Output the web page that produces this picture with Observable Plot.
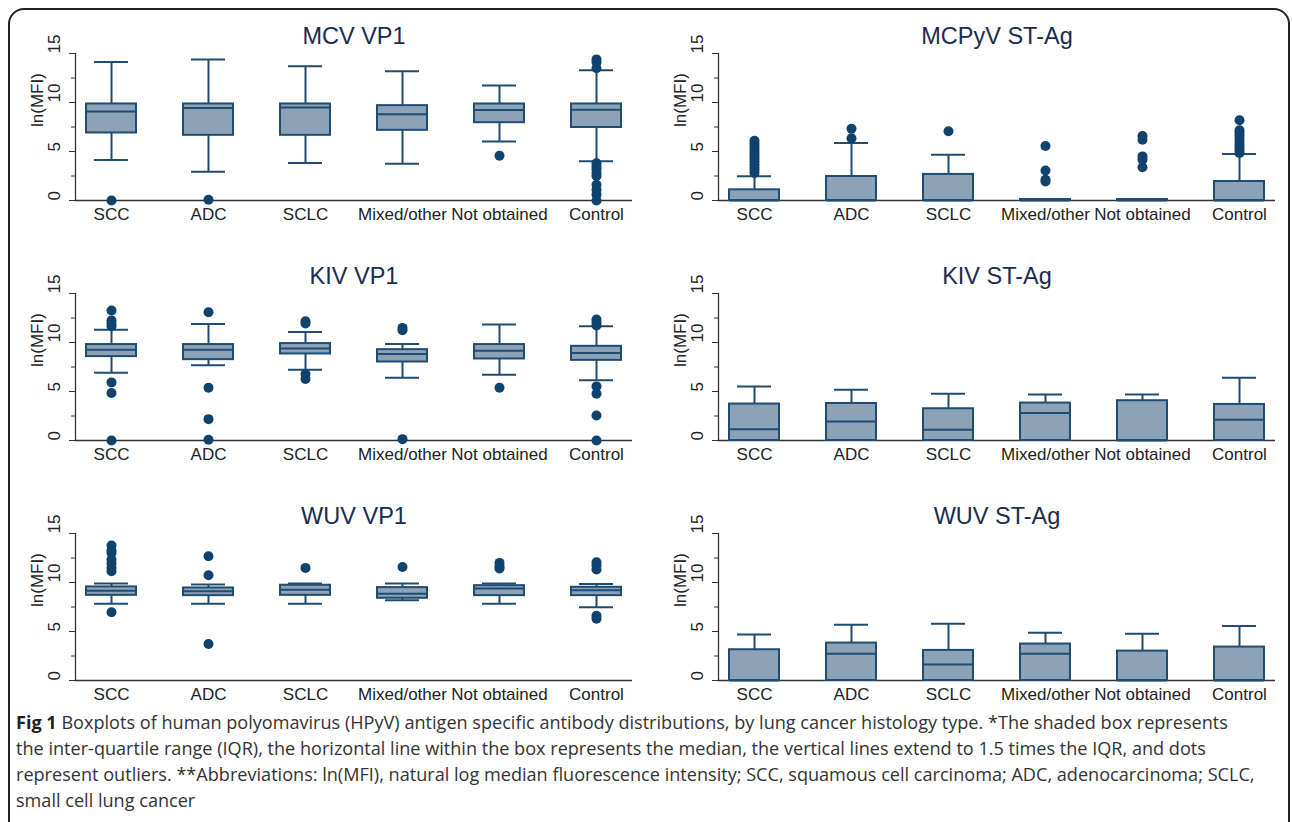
<!DOCTYPE html>
<html>
<head>
<meta charset="utf-8">
<script src="https://cdn.jsdelivr.net/npm/d3@7"></script>
<script src="https://cdn.jsdelivr.net/npm/@observablehq/plot@0.6"></script>
<style>
  html, body { margin: 0; padding: 0; background: #fff; }
  body { width: 1292px; height: 822px; overflow: hidden; position: relative; font-family: "Liberation Sans", Arial, sans-serif; }
  #frame { position: absolute; left: 8px; top: 8px; width: 1282px; height: 900px; border: 2px solid #222; border-radius: 16px; box-sizing: border-box; }
  .panel { position: absolute; }
  #caption { position: absolute; left: 16px; top: 709px; font-family: "Open Sans", sans-serif; font-size: 18.1px; line-height: 26px; color: #333; white-space: nowrap; }
  #caption b { color: #222; }
</style>
</head>
<body>
<div id="frame"></div>
<div id="panels"></div>
<div id="caption">
  <b>Fig 1</b> Boxplots of human polyomavirus (HPyV) antigen specific antibody distributions, by lung cancer histology type. *The shaded box represents<br>
  the inter-quartile range (IQR), the horizontal line within the box represents the median, the vertical lines extend to 1.5 times the IQR, and dots<br>
  represent outliers. **Abbreviations: ln(MFI), natural log median fluorescence intensity; SCC, squamous cell carcinoma; ADC, adenocarcinoma; SCLC,<br>
  small cell lung cancer
</div>
<script>
// ---------- data ----------
const categories = ["SCC", "ADC", "SCLC", "Mixed/other", "Not obtained", "Control"];
const panelTitles = ["MCV VP1", "MCPyV ST-Ag", "KIV VP1", "KIV ST-Ag", "WUV VP1", "WUV ST-Ag"];
const yTicks = [0, 5, 10, 15];
const yMinorTicks = [2.5, 7.5, 12.5];
const yLabel = "ln(MFI)";

// each row: [lower whisker, Q1, median, Q3, upper whisker]
const mcvVp1Stats = [
  [4.13, 6.89, 9.08, 9.85, 14.13],
  [2.93, 6.65, 9.44, 9.85, 14.39],
  [3.82, 6.65, 9.48, 9.85, 13.70],
  [3.75, 7.16, 8.80, 9.68, 13.20],
  [6.03, 7.94, 9.24, 9.85, 11.73],
  [4.00, 7.45, 9.25, 9.85, 13.30]
];
const mcvVp1Outliers = [
  [0],
  [0.07],
  [],
  [],
  [4.57],
  [14.4, 14.1, 13.5, 3.8, 3.5, 3.2, 2.8, 2.5, 1.6, 1.1, 0.6, 0]
];

const mcpyvStStats = [
  [0, 0, 0, 1.09, 2.47],
  [0, 0, 0, 2.45, 5.86],
  [0, 0, 0, 2.66, 4.67],
  [0, 0, 0, 0.10, 0.10],
  [0, 0, 0, 0.10, 0.10],
  [0, 0, 0, 1.94, 4.74]
];
const mcpyvStOutliers = [
  [6.1, 5.8, 5.5, 5.2, 4.9, 4.6, 4.3, 4.0, 3.7, 3.4, 3.1, 2.8],
  [7.33, 6.34],
  [7.06],
  [5.56, 3.07, 2.11, 1.94],
  [6.58, 6.2, 4.5, 4.16, 3.4],
  [8.18, 7.16, 6.9, 6.6, 6.3, 6.0, 5.7, 5.4, 5.1, 4.85]
];

const kivVp1Stats = [
  [6.92, 8.56, 9.27, 9.79, 11.29],
  [7.67, 8.25, 9.27, 9.79, 11.90],
  [7.23, 8.83, 9.38, 9.89, 11.08],
  [6.41, 8.01, 8.83, 9.27, 9.85],
  [6.72, 8.32, 9.17, 9.79, 11.83],
  [6.14, 8.18, 8.93, 9.61, 11.66]
];
const kivVp1Outliers = [
  [13.26, 12.24, 11.93, 11.66, 5.93, 4.84, 0],
  [13.09, 5.39, 2.18, 0.07],
  [12.17, 11.93, 6.78, 6.27],
  [11.49, 11.25, 0.14],
  [5.39],
  [12.34, 12.07, 11.73, 5.52, 4.77, 2.56, 0]
];

const kivStStats = [
  [0, 0, 1.16, 3.72, 5.52],
  [0, 0, 1.94, 3.78, 5.18],
  [0, 0, 1.09, 3.24, 4.77],
  [0, 0, 2.80, 3.82, 4.70],
  [0, 0, 0, 4.06, 4.70],
  [0, 0, 2.11, 3.68, 6.41]
];
const kivStOutliers = [[], [], [], [], [], []];

const wuvVp1Stats = [
  [7.84, 8.69, 9.17, 9.55, 9.89],
  [7.84, 8.66, 9.10, 9.44, 9.79],
  [7.84, 8.69, 9.27, 9.72, 9.89],
  [8.18, 8.39, 8.86, 9.48, 9.89],
  [7.84, 8.66, 9.38, 9.68, 9.89],
  [7.47, 8.66, 9.20, 9.51, 9.85]
];
const wuvVp1Outliers = [
  [13.77, 13.26, 13.02, 12.34, 11.93, 11.49, 11.15, 6.96],
  [12.68, 10.74, 3.72],
  [11.49],
  [11.59],
  [12.0, 11.66, 11.42],
  [12.07, 11.73, 11.32, 6.61, 6.31]
];

const wuvStStats = [
  [0, 0, 0, 3.14, 4.70],
  [0, 0, 2.73, 3.82, 5.69],
  [0, 0, 1.64, 3.07, 5.80],
  [0, 0, 2.73, 3.72, 4.88],
  [0, 0, 0, 3.00, 4.77],
  [0, 0, 0, 3.41, 5.56]
];
const wuvStOutliers = [[], [], [], [], [], []];

const panelStats = [mcvVp1Stats, mcpyvStStats, kivVp1Stats, kivStStats, wuvVp1Stats, wuvStStats];
const panelOutliers = [mcvVp1Outliers, mcpyvStOutliers, kivVp1Outliers, kivStOutliers, wuvVp1Outliers, wuvStOutliers];

// ---------- style ----------
const boxFill = "#8ba2b7";
const boxStroke = "#1f4c73";
const dotFill = "#0f436d";
const titleColor = "#1b2c52";
const axisColor = "#333";

function panel(i) {
  const stats = panelStats[i].map((s, j) => ({cat: categories[j], lo: s[0], q1: s[1], med: s[2], q3: s[3], hi: s[4]}));
  const outs = panelOutliers[i].flatMap((arr, j) => arr.map(v => ({cat: categories[j], v})));
  return Plot.plot({
    width: 640,
    height: 240,
    marginLeft: 75,
    marginRight: 8,
    marginTop: 53,
    marginBottom: 40,
    style: {fontFamily: "'Liberation Sans', Arial, sans-serif", fontSize: "17px", color: "#222", background: "transparent", overflow: "visible"},
    x: {type: "band", domain: categories, paddingInner: 0.487, paddingOuter: 0.1035, label: null},
    y: {domain: [0, 15], label: null},
    marks: [
      Plot.axisX({tickSize: 0, tickPadding: 7, label: null, fill: "#222", fontSize: 17}),
      Plot.axisY({ticks: yTicks, tickSize: 6, text: null, label: null, stroke: axisColor}),
      Plot.axisY({ticks: yMinorTicks, tickSize: 4, text: null, label: null, stroke: axisColor}),
      Plot.text(yTicks, {y: d => d, text: d => String(d), frameAnchor: "left", rotate: -90, dx: -21, fontSize: 17, fill: "#222"}),
      Plot.frame({anchor: "left", stroke: axisColor, strokeWidth: 1.3}),
      Plot.ruleY([0], {stroke: axisColor, strokeWidth: 1.3}),
      Plot.text([yLabel], {frameAnchor: "left", rotate: -90, dx: -38, fontSize: 17, fill: "#222"}),
      Plot.text([panelTitles[i]], {frameAnchor: "top", lineAnchor: "bottom", dy: -10, fontSize: 23.5, fill: titleColor}),
      Plot.ruleX(stats.filter(d => d.hi > d.q3), {x: "cat", y1: "q3", y2: "hi", stroke: boxStroke, strokeWidth: 2}),
      Plot.ruleX(stats.filter(d => d.lo < d.q1), {x: "cat", y1: "lo", y2: "q1", stroke: boxStroke, strokeWidth: 2}),
      Plot.tickY(stats.filter(d => d.hi > d.q3), {x: "cat", y: "hi", insetLeft: 8, insetRight: 8, stroke: boxStroke, strokeWidth: 2}),
      Plot.tickY(stats.filter(d => d.lo < d.q1), {x: "cat", y: "lo", insetLeft: 8, insetRight: 8, stroke: boxStroke, strokeWidth: 2}),
      Plot.barY(stats, {x: "cat", y1: "q1", y2: "q3", fill: boxFill, stroke: boxStroke, strokeWidth: 2}),
      Plot.tickY(stats, {x: "cat", y: "med", stroke: boxStroke, strokeWidth: 2}),
      Plot.dot(outs, {x: "cat", y: "v", r: 5, fill: dotFill, stroke: "none"})
    ]
  });
}

const container = document.getElementById("panels");
for (let i = 0; i < 6; i++) {
  const div = document.createElement("div");
  div.className = "panel";
  div.style.left = (i % 2 === 0 ? 0 : 643) + "px";
  div.style.top = (Math.floor(i / 2) * 240) + "px";
  div.appendChild(panel(i));
  container.appendChild(div);
}
</script>
</body>
</html>
